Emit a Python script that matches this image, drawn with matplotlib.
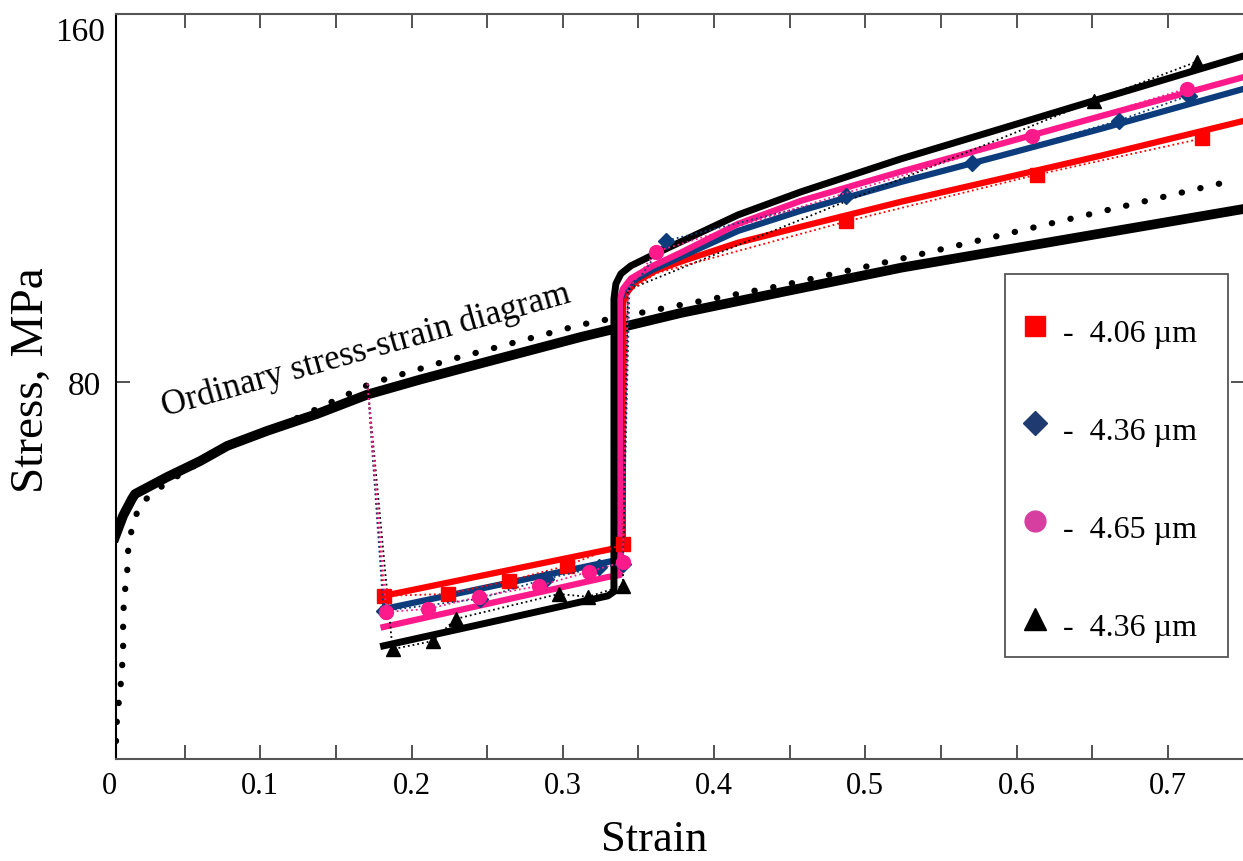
import matplotlib
matplotlib.use("Agg")
import matplotlib.pyplot as plt
from matplotlib.lines import Line2D
from matplotlib.patches import Rectangle

plt.rcParams["font.family"] = ["Liberation Serif", "DejaVu Serif"]

# ordinary stress-strain diagram (thick black) and its dotted twin
ord_x = [0.0040, 0.0093, 0.0152, 0.0172, 0.0384, 0.0603, 0.0781, 0.1046, 0.1377, 0.1709,
         0.2060, 0.2457, 0.3119, 0.3781, 0.4444, 0.5238, 0.6364, 0.7510]
ord_y = [47.1, 51.6, 55.2, 56.2, 59.8, 63.2, 66.4, 69.6, 73.2, 77.3,
         80.5, 83.9, 89.5, 94.6, 99.0, 104.2, 110.4, 116.7]
dot_x = [0.0046, 0.0053, 0.0073, 0.0086, 0.0093, 0.0093, 0.0099, 0.0119, 0.0126, 0.0152,
         0.0205, 0.0371, 0.0781, 0.1265, 0.1728, 0.2258, 0.3119, 0.3715, 0.4444, 0.5238, 0.7391]
dot_y = [3.8, 9.1, 14.2, 19.1, 24.0, 29.1, 34.2, 39.0, 44.1, 49.2,
         54.1, 58.4, 66.4, 72.6, 79.6, 84.7, 92.1, 95.9, 100.4, 106.1, 122.4]

# model curves (solid)
red_x = [0.1815, 0.3331, 0.3397, 0.3397, 0.3417, 0.3483, 0.3616, 0.3781, 0.4159, 0.4576,
         0.5238, 0.5901, 0.6563, 0.7510]
red_y = [34.6, 44.6, 45.0, 96.6, 98.7, 101.2, 103.6, 105.5, 109.5, 112.9,
         118.2, 123.1, 128.0, 135.4]
blue_x = [0.1815, 0.3298, 0.3384, 0.3384, 0.3404, 0.3464, 0.3583, 0.3781, 0.4159, 0.4576,
          0.5238, 0.5901, 0.6563, 0.7510]
blue_y = [31.8, 41.8, 42.4, 97.6, 99.3, 101.4, 103.6, 106.5, 112.0, 116.3,
          122.4, 128.0, 133.7, 142.2]
pink_x = [0.1815, 0.3298, 0.3377, 0.3377, 0.3397, 0.3450, 0.3583, 0.3781, 0.4159, 0.4576,
          0.5238, 0.5901, 0.6563, 0.7510]
pink_y = [28.0, 38.6, 39.0, 97.6, 99.7, 101.9, 104.4, 107.4, 113.5, 118.4,
          124.6, 130.5, 136.4, 144.7]
blk_x = [0.1815, 0.2589, 0.3298, 0.3338, 0.3338, 0.3351, 0.3384, 0.3450, 0.3583, 0.3781,
         0.4159, 0.4576, 0.5238, 0.5901, 0.6510, 0.7510]
blk_y = [24.0, 29.5, 34.6, 35.5, 97.6, 100.8, 102.9, 104.6, 106.7, 109.7,
         115.4, 120.3, 127.3, 133.7, 139.6, 149.2]

# experimental points (dotted + markers)
red_ex = [0.1709, 0.1815, 0.2238, 0.2642, 0.3026, 0.3397, 0.3430, 0.3616, 0.4874, 0.6132, 0.7225]
red_ey = [79.6, 34.6, 35.0, 37.8, 41.0, 45.6, 99.0, 103.0, 114.0, 123.9, 131.6]
red_mk = [1, 2, 3, 4, 5, 8, 9, 10]
blue_ex = [0.1709, 0.1815, 0.2450, 0.2887, 0.3238, 0.3397, 0.3440, 0.3682, 0.4874, 0.5702, 0.6675, 0.7139]
blue_ey = [79.6, 31.4, 34.0, 38.2, 40.7, 41.4, 99.0, 109.9, 119.3, 126.3, 135.4, 140.7]
blue_mk = [1, 2, 3, 4, 5, 7, 8, 9, 10, 11]
pink_ex = [0.1709, 0.1834, 0.2106, 0.2444, 0.2841, 0.3172, 0.3397, 0.3430, 0.3616, 0.6099, 0.7126]
pink_ey = [79.6, 31.2, 31.8, 34.4, 36.7, 39.7, 41.8, 99.5, 107.6, 132.2, 142.2]
pink_mk = [1, 2, 3, 4, 5, 6, 8, 9, 10]
blk_ex = [0.1709, 0.1874, 0.2139, 0.2291, 0.2974, 0.3166, 0.3397, 0.3430, 0.6510, 0.7192]
blk_ey = [79.6, 23.3, 25.0, 29.7, 35.0, 34.4, 36.7, 99.5, 139.6, 147.9]
blk_mk = [1, 2, 3, 4, 5, 6, 8, 9]

labels = ["-  4.06 µm", "-  4.36 µm", "-  4.65 µm", "-  4.36 µm"]
RED, BLUE, PINK, BLK = "#ff0000", "#0d3c7c", "#ff1a8c", "#000000"

fig = plt.figure(figsize=(12.43, 8.62), dpi=100)
ax = fig.add_axes([116 / 1243, 102 / 862, 1129 / 1243, 745 / 862])

ax.plot(ord_x, ord_y, color="black", lw=7, solid_joinstyle="round", zorder=2)
ax.plot(dot_x, dot_y, color="black", lw=4.5, linestyle=(0, (0.05, 3.0)),
        dash_capstyle="round", zorder=2)

ax.plot(red_x, red_y, color=RED, lw=4.5, solid_joinstyle="round", zorder=3)
ax.plot(blue_x, blue_y, color=BLUE, lw=4.5, solid_joinstyle="round", zorder=3)
ax.plot(pink_x, pink_y, color=PINK, lw=4.5, solid_joinstyle="round", zorder=3)
ax.plot(blk_x, blk_y, color=BLK, lw=5, solid_joinstyle="round", zorder=3)

ax.plot(blk_ex, blk_ey, color=BLK, lw=1.3, ls=":", marker="^", ms=10, markevery=blk_mk, zorder=4)
ax.plot(red_ex, red_ey, color=RED, lw=1.3, ls=":", marker="s", ms=10, markevery=red_mk, zorder=4)
ax.plot(blue_ex, blue_ey, color=BLUE, lw=1.3, ls=":", marker="D", ms=8.5, markevery=blue_mk, zorder=4)
ax.plot(pink_ex, pink_ey, color=PINK, lw=1.3, ls=":", marker="o", ms=10, markevery=pink_mk, zorder=4)

ax.text(0.1702, 86.8, "Ordinary stress-strain diagram", rotation=15.7,
        ha="center", va="center", fontsize=25)

ax.set_xlim(0.0046, 0.751)
ax.set_ylim(0, 158)
ax.set_xticks([0.1, 0.2, 0.3, 0.4, 0.5, 0.6, 0.7])
ax.set_xticklabels(["0.1", "0.2", "0.3", "0.4", "0.5", "0.6", "0.7"])
ax.set_xticks([0.05, 0.15, 0.25, 0.35, 0.45, 0.55, 0.65], minor=True)
ax.set_yticks([80])
ax.set_yticklabels(["80"])
ax.tick_params(which="both", direction="in", top=True, right=True, length=10,
               width=1.3, color="#444444")
ax.tick_params(axis="x", labelsize=22, pad=9)
ax.tick_params(axis="y", labelsize=24, pad=11)
for s in ax.spines.values():
    s.set_color("#555555")
    s.set_linewidth(1.5)
ax.spines["left"].set_color("black")

ax.annotate("0", xy=(0, 0), xycoords=("data", "axes fraction"), xytext=(0, -9),
            textcoords="offset points", ha="center", va="top", fontsize=22,
            annotation_clip=False)
ax.annotate("160", xy=(0, 0.976), xycoords="axes fraction", xytext=(-8, 0),
            textcoords="offset points", ha="right", va="center", fontsize=24,
            annotation_clip=False)

ax.set_xlabel("Strain", fontsize=32)
ax.xaxis.set_label_coords(0.477, -0.081)
ax.set_ylabel("Stress, MPa", fontsize=34)
ax.yaxis.set_label_coords(-0.056, 0.51)

handles = [
    Line2D([], [], color=RED, marker="s", ls="None", ms=15),
    Line2D([], [], color="#1f3a6e", marker="D", ms=12, ls="None"),
    Line2D([], [], color="#d63fa0", marker="o", ms=15, ls="None"),
    Line2D([], [], color="black", marker="^", ms=16, ls="None"),
]
ax.legend(handles, labels, loc="upper left", bbox_to_anchor=(0.783, 0.6376),
          fontsize=23, labelspacing=1.71, handlelength=0.6, handleheight=1.7,
          handletextpad=0.56, borderpad=0.8, borderaxespad=0, frameon=False)
ax.add_patch(Rectangle((0.7874, 0.1369), 0.1976, 0.5141, transform=ax.transAxes,
                       fill=False, edgecolor="#555555", linewidth=1.3, zorder=5))

fig.savefig("out.png", dpi=100)
